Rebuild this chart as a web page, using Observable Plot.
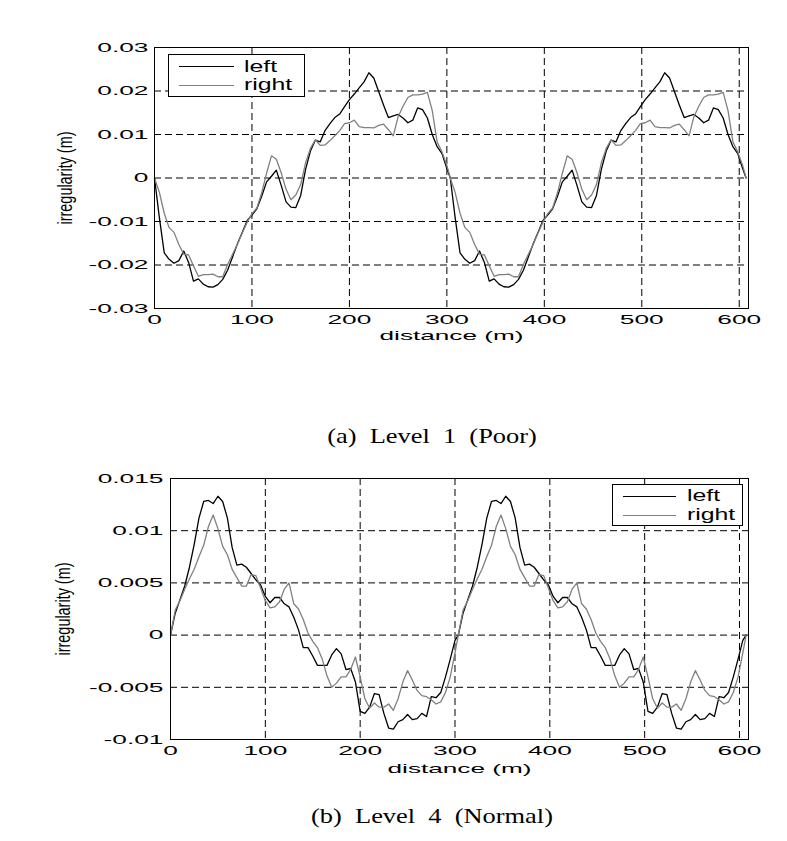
<!DOCTYPE html>
<html>
<head>
<meta charset="utf-8">
<script src="https://cdn.jsdelivr.net/npm/d3@7"></script>
<script src="https://cdn.jsdelivr.net/npm/@observablehq/plot@0.6"></script>
<style>
  body { margin: 0; background: #fff; }
  #page { position: relative; width: 787px; height: 841px; overflow: hidden; background: #fff;
          font-family: "Liberation Sans", Arial, sans-serif; }
  #page svg { position: absolute; left: 0; }
  .legend { position: absolute; background: #fff; border: 1px solid #000; box-sizing: border-box; }
  .legend .ln { position: absolute; height: 0; border-top-width: 1.3px; border-top-style: solid; }
  .legend .lt { position: absolute; font-size: 16px; line-height: 16px; white-space: pre;
                transform: scaleX(1.55); transform-origin: left center; color: #000; }
  .caption { position: absolute; font-family: "Liberation Serif", "Times New Roman", serif;
             font-size: 22px; line-height: 22px; white-space: pre; color: #000;
             transform: translateX(-50%) scaleX(1.2); z-index: 5; }
</style>
</head>
<body>
<div id="page"></div>
<script>
// ---------------- data ----------------
const xTicks = [0, 100, 200, 300, 400, 500, 600];
const xTickLabels = ["0", "100", "200", "300", "400", "500", "600"];
const xGrid = [100, 200, 300, 400, 500, 600];

const topYTicks = [-0.03, -0.02, -0.01, 0, 0.01, 0.02, 0.03];
const topYTickLabels = ["-0.03", "-0.02", "-0.01", "0", "0.01", "0.02", "0.03"];
const topYGrid = [-0.02, -0.01, 0, 0.01, 0.02];

const botYTicks = [-0.01, -0.005, 0, 0.005, 0.01, 0.015];
const botYTickLabels = ["-0.01", "-0.005", "0", "0.005", "0.01", "0.015"];
const botYGrid = [-0.005, 0, 0.005, 0.01];

const seriesNames = ["left", "right"];
const seriesColors = ["#000000", "#808080"];
const captions = ["(a)  Level  1  (Poor)", "(b)  Level  4  (Normal)"];
const axisLabelX = "distance (m)";
const axisLabelY = "irregularity (m)";

// distance (m) of each sample
const distance = [
  0, 5, 10, 15, 20, 25, 30, 35, 40, 45, 50, 55, 60, 65, 70, 75, 80, 85, 90, 95,
  100, 105, 110, 115, 120, 125, 130, 135, 140, 145, 150, 155, 160, 165, 170, 175, 180, 185, 190, 195,
  200, 205, 210, 215, 220, 225, 230, 235, 240, 245, 250, 255, 260, 265, 270, 275, 280, 285, 290, 295, 300,
  303.5, 308.5, 313.5, 318.5, 323.5, 328.5, 333.5, 338.5, 343.5, 348.5, 353.5, 358.5, 363.5, 368.5, 373.5, 378.5,
  383.5, 388.5, 393.5, 398.5, 403.5, 408.5, 413.5, 418.5, 423.5, 428.5, 433.5, 438.5, 443.5, 448.5, 453.5, 458.5,
  463.5, 468.5, 473.5, 478.5, 483.5, 488.5, 493.5, 498.5, 503.5, 508.5, 513.5, 518.5, 523.5, 528.5, 533.5, 538.5,
  543.5, 548.5, 553.5, 558.5, 563.5, 568.5, 573.5, 578.5, 583.5, 588.5, 593.5, 598.5, 603.5, 607
];

// (a) Level 1 (Poor)
const topLeft = [
  0, -0.0091, -0.0172, -0.0187, -0.0196, -0.019, -0.0168, -0.0194, -0.0237, -0.0232,
  -0.0244, -0.025, -0.0251, -0.0245, -0.0233, -0.0212, -0.0182, -0.0152, -0.0125, -0.0098,
  -0.0085, -0.0071, -0.0042, -0.0009, 0.0004, 0.0018, -0.0017, -0.0055, -0.0067, -0.0068,
  -0.004, 0.002, 0.0062, 0.0087, 0.0083, 0.0109, 0.0125, 0.0139, 0.0147, 0.0164,
  0.018, 0.0193, 0.0207, 0.0221, 0.0242, 0.023, 0.0199, 0.0168, 0.0139, 0.0143,
  0.0146, 0.0138, 0.0127, 0.0133, 0.0161, 0.0157, 0.0138, 0.01, 0.0072, 0.0056,
  0.0022,
  0, -0.0091, -0.0172, -0.0187, -0.0196, -0.019, -0.0168, -0.0194, -0.0237, -0.0232,
  -0.0244, -0.025, -0.0251, -0.0245, -0.0233, -0.0212, -0.0182, -0.0152, -0.0125, -0.0098,
  -0.0085, -0.0071, -0.0042, -0.0009, 0.0004, 0.0018, -0.0017, -0.0055, -0.0067, -0.0068,
  -0.004, 0.002, 0.0062, 0.0087, 0.0083, 0.0109, 0.0125, 0.0139, 0.0147, 0.0164,
  0.018, 0.0193, 0.0207, 0.0221, 0.0242, 0.023, 0.0199, 0.0168, 0.0139, 0.0143,
  0.0146, 0.0138, 0.0127, 0.0133, 0.0161, 0.0157, 0.0138, 0.01, 0.0072, 0.0056,
  0.0022, 0
];
const topRight = [
  0, -0.0033, -0.0081, -0.0114, -0.0125, -0.0153, -0.0175, -0.0177, -0.0202, -0.0226,
  -0.0222, -0.0222, -0.0221, -0.0227, -0.0227, -0.0199, -0.0176, -0.0153, -0.0127, -0.0102,
  -0.0082, -0.0069, -0.0034, 0.0011, 0.0051, 0.0043, 0.0012, -0.0026, -0.005, -0.0039,
  -0.0015, 0.0035, 0.0068, 0.0088, 0.0075, 0.0076, 0.0086, 0.0097, 0.0109, 0.0125,
  0.0127, 0.0133, 0.0118, 0.0116, 0.0116, 0.0115, 0.0121, 0.0124, 0.0111, 0.0097,
  0.0141, 0.0165, 0.0185, 0.0191, 0.0191, 0.0193, 0.0197, 0.0155, 0.0083, 0.006,
  0.0029,
  0, -0.0033, -0.0081, -0.0114, -0.0125, -0.0153, -0.0175, -0.0177, -0.0202, -0.0226,
  -0.0222, -0.0222, -0.0221, -0.0227, -0.0227, -0.0199, -0.0176, -0.0153, -0.0127, -0.0102,
  -0.0082, -0.0069, -0.0034, 0.0011, 0.0051, 0.0043, 0.0012, -0.0026, -0.005, -0.0039,
  -0.0015, 0.0035, 0.0068, 0.0088, 0.0075, 0.0076, 0.0086, 0.0097, 0.0109, 0.0125,
  0.0127, 0.0133, 0.0118, 0.0116, 0.0116, 0.0115, 0.0121, 0.0124, 0.0111, 0.0097,
  0.0141, 0.0165, 0.0185, 0.0191, 0.0191, 0.0193, 0.0197, 0.0155, 0.0083, 0.006,
  0.0029, 0
];

// (b) Level 4 (Normal)
const botLeft = [
  0, 0.0021, 0.0034, 0.0047, 0.0065, 0.0087, 0.0112, 0.0128, 0.0129, 0.0126,
  0.0133, 0.0128, 0.0112, 0.0084, 0.0067, 0.0068, 0.0065, 0.0059, 0.0053, 0.0048,
  0.0037, 0.0031, 0.0036, 0.0036, 0.003, 0.0027, 0.0017, 0.0005, -0.0012, -0.0012,
  -0.002, -0.0029, -0.0029, -0.0029, -0.0019, -0.0013, -0.0018, -0.0033, -0.0032, -0.0045,
  -0.0073, -0.0075, -0.0069, -0.0056, -0.0057, -0.0075, -0.0089, -0.009, -0.0083, -0.0081,
  -0.0076, -0.0081, -0.008, -0.0075, -0.0078, -0.0059, -0.006, -0.0055, -0.004, -0.0023,
  -0.0005,
  0, 0.0021, 0.0034, 0.0047, 0.0065, 0.0087, 0.0112, 0.0128, 0.0129, 0.0126,
  0.0133, 0.0128, 0.0112, 0.0084, 0.0067, 0.0068, 0.0065, 0.0059, 0.0053, 0.0048,
  0.0037, 0.0031, 0.0036, 0.0036, 0.003, 0.0027, 0.0017, 0.0005, -0.0012, -0.0012,
  -0.002, -0.0029, -0.0029, -0.0029, -0.0019, -0.0013, -0.0018, -0.0033, -0.0032, -0.0045,
  -0.0073, -0.0075, -0.0069, -0.0056, -0.0057, -0.0075, -0.0089, -0.009, -0.0083, -0.0081,
  -0.0076, -0.0081, -0.008, -0.0075, -0.0078, -0.0059, -0.006, -0.0055, -0.004, -0.0023,
  -0.0005, 0
];
const botRight = [
  0, 0.0024, 0.0033, 0.0044, 0.0054, 0.0063, 0.0075, 0.0086, 0.0104, 0.0115,
  0.0102, 0.0085, 0.0077, 0.0063, 0.0055, 0.0047, 0.0047, 0.0058, 0.0057, 0.0045,
  0.0033, 0.0026, 0.0027, 0.0032, 0.0044, 0.005, 0.003, 0.0025, 0.0015, 0.0002,
  -0.0006, -0.0012, -0.0023, -0.0039, -0.005, -0.0046, -0.004, -0.004, -0.0033, -0.0021,
  -0.004, -0.0061, -0.007, -0.0065, -0.0069, -0.0069, -0.0066, -0.0072, -0.0061, -0.0045,
  -0.0034, -0.0043, -0.0053, -0.0058, -0.0059, -0.0062, -0.0066, -0.0064, -0.0055, -0.004,
  -0.0017,
  0, 0.0024, 0.0033, 0.0044, 0.0054, 0.0063, 0.0075, 0.0086, 0.0104, 0.0115,
  0.0102, 0.0085, 0.0077, 0.0063, 0.0055, 0.0047, 0.0047, 0.0058, 0.0057, 0.0045,
  0.0033, 0.0026, 0.0027, 0.0032, 0.0044, 0.005, 0.003, 0.0025, 0.0015, 0.0002,
  -0.0006, -0.0012, -0.0023, -0.0039, -0.005, -0.0046, -0.004, -0.004, -0.0033, -0.0021,
  -0.004, -0.0061, -0.007, -0.0065, -0.0069, -0.0069, -0.0066, -0.0072, -0.0061, -0.0045,
  -0.0034, -0.0043, -0.0053, -0.0058, -0.0059, -0.0062, -0.0066, -0.0064, -0.0055, -0.004,
  -0.0017, 0
];

// ---------------- drawing ----------------
const page = document.getElementById("page");

function rows(values, series) {
  return distance.map((d, i) => ({distance: d, value: values[i], series}));
}

function stretchEl(el, s) {
  const x = +el.getAttribute("x") || 0;
  const y = +el.getAttribute("y") || 0;
  const t = el.getAttribute("transform") || "";
  el.setAttribute("transform", `${t} translate(${x},${y}) scale(${s},1) translate(${-x},${-y})`);
}
function stretch(svg, selector, s) {
  svg.querySelectorAll(selector).forEach((el) => stretchEl(el, s));
}
// set a font size, then squeeze/stretch the label along its own direction to a target length
function fitText(svg, str, fontPx, targetLen) {
  svg.querySelectorAll("text").forEach((el) => {
    if (el.textContent !== str) return;
    el.style.fontSize = fontPx + "px";
    const len = el.getComputedTextLength();
    if (len > 0) stretchEl(el, targetLen / len);
  });
}

function chart(cfg) {
  const grid = {stroke: "#000", strokeOpacity: 1, strokeWidth: 1, strokeDasharray: "7,4"};
  const svg = Plot.plot({
    width: 787,
    height: cfg.height,
    marginTop: cfg.mt, marginRight: cfg.mr, marginBottom: cfg.mb, marginLeft: cfg.ml,
    style: {fontFamily: "'Liberation Sans', Arial, sans-serif", fontSize: "13.5px", color: "#000", background: "none", overflow: "visible"},
    x: {domain: [0, 609.5]},
    y: {domain: cfg.yDomain},
    marks: [
      Plot.gridX(xGrid, grid),
      Plot.gridY(cfg.yGrid, grid),
      Plot.line(rows(cfg.left, seriesNames[0]), {x: "distance", y: "value", stroke: seriesColors[0], strokeWidth: 1.3}),
      Plot.line(rows(cfg.right, seriesNames[1]), {x: "distance", y: "value", stroke: seriesColors[1], strokeWidth: 1.3}),
      Plot.frame({stroke: "#000", strokeWidth: 1}),
      Plot.axisX(xTicks, {tickSize: 0, tickPadding: 6, label: null,
        tickFormat: (d) => xTickLabels[xTicks.indexOf(d)]}),
      Plot.axisY(cfg.yTicks, {tickSize: 0, tickPadding: cfg.ypad, label: null,
        tickFormat: (d) => cfg.yLabels[cfg.yTicks.indexOf(d)]}),
      Plot.text([axisLabelY], {text: (d) => d, frameAnchor: "left", rotate: -90, dx: cfg.ylabDx,
        textAnchor: "middle", lineAnchor: "middle"}),
      Plot.text([axisLabelX], {text: (d) => d, frameAnchor: "bottom", dy: cfg.xlabDy,
        textAnchor: "middle", lineAnchor: "middle"})
    ]
  });
  svg.style.top = cfg.top + "px";
  page.appendChild(svg);
  stretch(svg, 'g[aria-label="x-axis tick label"] text', 1.95);
  stretch(svg, 'g[aria-label="y-axis tick label"] text', 1.95);
  fitText(svg, axisLabelX, 13.5, 144);
  fitText(svg, axisLabelY, 20, 93);
  return svg;
}

function legend(box) {
  const div = document.createElement("div");
  div.className = "legend";
  Object.assign(div.style, {left: box.left + "px", top: box.top + "px", width: box.w + "px", height: box.h + "px"});
  seriesNames.forEach((name, i) => {
    const ln = document.createElement("div");
    ln.className = "ln";
    Object.assign(ln.style, {left: box.lx0 + "px", width: (box.lx1 - box.lx0) + "px",
      top: box.rows[i] + "px", borderTopColor: seriesColors[i]});
    div.appendChild(ln);
    const t = document.createElement("span");
    t.className = "lt";
    t.textContent = name;
    Object.assign(t.style, {left: box.tx + "px", top: box.textTops[i] + "px"});
    div.appendChild(t);
  });
  page.appendChild(div);
}

function caption(text, cx, top) {
  const c = document.createElement("div");
  c.className = "caption";
  c.textContent = text;
  Object.assign(c.style, {left: cx + "px", top: top + "px"});
  page.appendChild(c);
}

chart({
  top: 0, height: 350, mt: 47, mr: 39, mb: 42, ml: 154, ypad: 6,
  yDomain: [-0.03, 0.03], yTicks: topYTicks, yLabels: topYTickLabels, yGrid: topYGrid,
  left: topLeft, right: topRight, ylabDx: -89, xlabDy: 27
});
chart({
  top: 440, height: 340, mt: 38, mr: 39, mb: 41, ml: 170, ypad: 7,
  yDomain: [-0.01, 0.015], yTicks: botYTicks, yLabels: botYTickLabels, yGrid: botYGrid,
  left: botLeft, right: botRight, ylabDx: -107, xlabDy: 29
});
legend({left: 168, top: 54, w: 137, h: 43, lx0: 10, lx1: 65, tx: 75, rows: [11, 30], textTops: [4, 22]});
legend({left: 612, top: 484, w: 131, h: 42, lx0: 10, lx1: 63, tx: 74, rows: [11, 30], textTops: [3, 22]});
caption(captions[0], 432, 425);
caption(captions[1], 432, 805);
</script>
</body>
</html>
